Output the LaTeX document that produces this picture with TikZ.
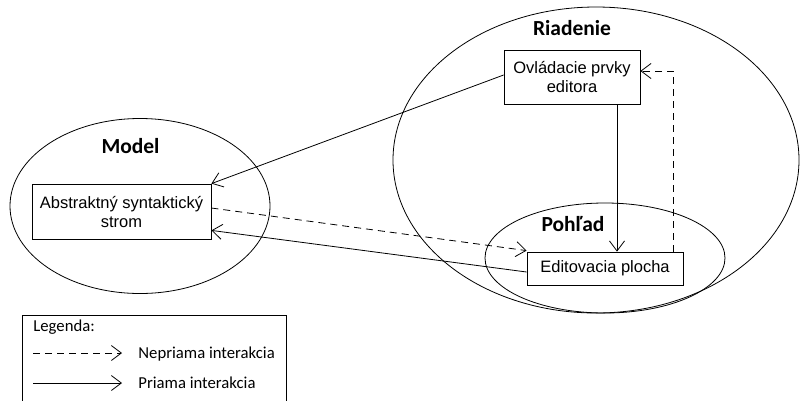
\documentclass[tikz,border=0pt]{standalone}
\usepackage{fontspec}
\setmainfont{Liberation Sans}
\newfontfamily\calfont{Carlito}
\usetikzlibrary{shapes.geometric,arrows.meta,calc}
\begin{document}
\begin{tikzpicture}[x=1pt,y=-1pt,
  line width=0.8pt,
  grp/.style={draw, ellipse, inner sep=0pt},
  boxn/.style={draw, rectangle, inner sep=0pt, align=center, font=\fontsize{16.5}{19}\selectfont},
  lbl/.style={font=\calfont\bfseries\fontsize{21.5}{24}\selectfont, inner sep=0pt},
  leg/.style={font=\calfont\fontsize{16.7}{19}\selectfont, inner sep=0pt, anchor=west},
  arr/.style={-{Straight Barb[length=10pt,width=15pt,line width=0.8pt]}},
  dsh/.style={dash pattern=on 7pt off 5pt}]
\useasboundingbox (0,0) rectangle (800,400);
% group ellipses
\node[grp, minimum width=260pt, minimum height=175pt] (model) at (140,206) {};
\node[grp, minimum width=406pt, minimum height=306pt] (riad) at (596,160) {};
\node[grp, minimum width=240pt, minimum height=110pt] (pohl) at (605,258) {};
% labels
\node[lbl] (lmodel) at (130.5,146) {Model};
\node[lbl] (lriad) at (572,28) {Riadenie};
\node[lbl] (lpohl) at (573,224) {Pohľad};
% boxes
\node[boxn, minimum width=179pt, minimum height=55pt] (abs) at (121.5,211.5) {Abstraktný syntaktický\\strom};
\node[boxn, minimum width=136pt, minimum height=54pt] (ovl) at (572,77) {Ovládacie prvky\\editora};
\node[boxn, minimum width=156pt, minimum height=33pt] (edit) at (605,268.5) {Editovacia plocha};
% connectors
\draw[arr] ($(ovl.west)+(0,-2)$) -- (abs.north east);
\draw[arr] ($(ovl.south)+(45,0)$) coordinate (vtop) -- (vtop |- edit.north);
\draw[arr,dsh] ($(edit.north east)+(-10,0)$) -- ($(edit.north east |- ovl.east)+(-10,-6)$) -- ($(ovl.east)+(0,-6)$);
\draw[arr,dsh] ($(abs.east)+(0,-3.5)$) -- ($(edit.north west)+(0,-1)$);
\draw[arr] ($(edit.west)+(0,3.5)$) -- ($(abs.south east)+(0,-9)$);
% legend
\node[leg] (legt) at (33,327) {Legenda:};
\coordinate (l1a) at (33,353);
\coordinate (l1b) at (122,353);
\coordinate (l2a) at (33,383);
\coordinate (l2b) at (122,383);
\draw[arr,dsh] (l1a) -- (l1b);
\draw[arr] (l2a) -- (l2b);
\node[leg] (leg1) at (138,354) {Nepriama interakcia};
\node[leg] (leg2) at (138,383) {Priama interakcia};
\draw (22,401) -- (22,315) -- (286,315) -- (286,401);
\end{tikzpicture}
\end{document}
